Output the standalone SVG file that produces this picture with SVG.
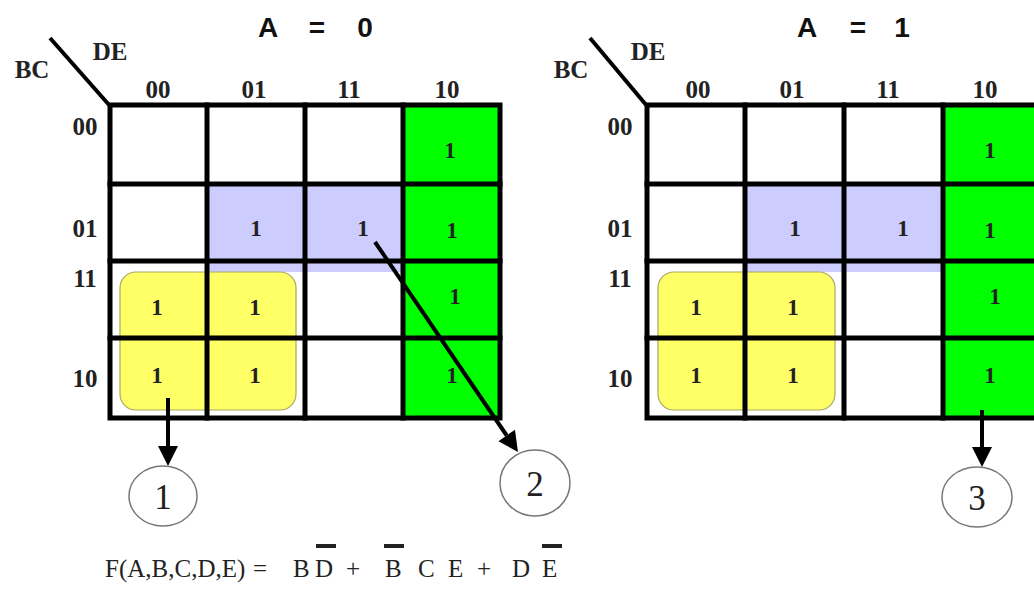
<svg xmlns="http://www.w3.org/2000/svg" width="1034" height="589" viewBox="0 0 1034 589">
<style>
.bg{fill:#ffffff}
.green{fill:#00ff00}
.lav{fill:#ccccff}
.yel{fill:#ffff66;stroke:#a8a860;stroke-width:1.2}
.grid{stroke:#000;stroke-width:5;fill:none;stroke-linecap:square}
.diag{stroke:#000;stroke-width:4}
.lbl{font-family:"Liberation Serif","Times New Roman",serif;font-weight:bold;font-size:25px;fill:#222;text-anchor:middle}
.one{font-family:"Liberation Serif","Times New Roman",serif;font-weight:bold;font-size:23px;fill:#222;text-anchor:middle}
.title{font-family:"Liberation Sans",Arial,sans-serif;font-weight:bold;font-size:28px;fill:#111;text-anchor:middle}
.circ{fill:#fff;stroke:#777;stroke-width:1.5}
.ctext{font-family:"Liberation Serif","Times New Roman",serif;font-size:35px;fill:#222;text-anchor:middle}
.arrow{stroke:#000;stroke-width:4;fill:none}
.f{font-family:"Liberation Serif","Times New Roman",serif;font-size:25px;fill:#222}
.bar{fill:#222}
</style>
<defs>
<marker id="ah" markerUnits="userSpaceOnUse" markerWidth="20" markerHeight="20" viewBox="0 0 20 20" refX="0" refY="10" orient="auto" overflow="visible">
<path d="M0,0 L20,10 L0,20 z" fill="#000"/>
</marker>
</defs>
<rect class="bg" x="0" y="0" width="1034" height="589"/>

<g id="map-a0">
<text class="title" x="268" y="37">A</text>
<text class="title" x="317" y="37">=</text>
<text class="title" x="365" y="37">0</text>
<rect class="green" x="403" y="105" width="97" height="313"/>
<rect class="lav" x="207" y="186" width="196" height="86"/>
<rect class="yel" x="120" y="272" width="176" height="138" rx="16" ry="16"/>
<line class="diag" x1="50" y1="38" x2="110" y2="106"/>
<rect class="grid" x="110" y="105" width="390" height="313"/>
<line class="grid" x1="207" y1="105" x2="207" y2="418"/>
<line class="grid" x1="305" y1="105" x2="305" y2="418"/>
<line class="grid" x1="403" y1="105" x2="403" y2="418"/>
<line class="grid" x1="110" y1="184" x2="500" y2="184"/>
<line class="grid" x1="110" y1="261" x2="500" y2="261"/>
<line class="grid" x1="110" y1="338" x2="500" y2="338"/>
<text class="lbl" x="110" y="60">DE</text>
<text class="lbl" x="32" y="78">BC</text>
<text class="lbl" x="158" y="98">00</text>
<text class="lbl" x="254" y="98">01</text>
<text class="lbl" x="349" y="98">11</text>
<text class="lbl" x="447" y="98">10</text>
<text class="lbl" x="85" y="135">00</text>
<text class="lbl" x="85" y="237">01</text>
<text class="lbl" x="85" y="287">11</text>
<text class="lbl" x="85" y="387">10</text>
<text class="one" x="450" y="158">1</text>
<text class="one" x="256" y="236">1</text>
<text class="one" x="363" y="236">1</text>
<text class="one" x="452" y="238">1</text>
<text class="one" x="157" y="315">1</text>
<text class="one" x="255" y="315">1</text>
<text class="one" x="455" y="304">1</text>
<text class="one" x="157" y="383">1</text>
<text class="one" x="255" y="383">1</text>
<text class="one" x="452" y="383">1</text>
</g>

<g id="map-a1">
<text class="title" x="807" y="37">A</text>
<text class="title" x="858" y="37">=</text>
<text class="title" x="902" y="37">1</text>
<rect class="green" x="943" y="105" width="97" height="313"/>
<rect class="lav" x="745" y="186" width="198" height="86"/>
<rect class="yel" x="658" y="272" width="177" height="138" rx="16" ry="16"/>
<line class="diag" x1="590" y1="38" x2="647" y2="106"/>
<rect class="grid" x="647" y="105" width="393" height="313"/>
<line class="grid" x1="745" y1="105" x2="745" y2="418"/>
<line class="grid" x1="844" y1="105" x2="844" y2="418"/>
<line class="grid" x1="943" y1="105" x2="943" y2="418"/>
<line class="grid" x1="647" y1="184" x2="1040" y2="184"/>
<line class="grid" x1="647" y1="261" x2="1040" y2="261"/>
<line class="grid" x1="647" y1="338" x2="1040" y2="338"/>
<text class="lbl" x="648" y="60">DE</text>
<text class="lbl" x="571" y="78">BC</text>
<text class="lbl" x="698" y="98">00</text>
<text class="lbl" x="792" y="98">01</text>
<text class="lbl" x="888" y="98">11</text>
<text class="lbl" x="985" y="98">10</text>
<text class="lbl" x="620" y="135">00</text>
<text class="lbl" x="620" y="237">01</text>
<text class="lbl" x="620" y="287">11</text>
<text class="lbl" x="620" y="387">10</text>
<text class="one" x="990" y="158">1</text>
<text class="one" x="795" y="236">1</text>
<text class="one" x="903" y="236">1</text>
<text class="one" x="990" y="238">1</text>
<text class="one" x="696" y="315">1</text>
<text class="one" x="793" y="315">1</text>
<text class="one" x="995" y="304">1</text>
<text class="one" x="696" y="383">1</text>
<text class="one" x="793" y="383">1</text>
<text class="one" x="990" y="383">1</text>
</g>

<g id="connectors">
<line class="arrow" x1="168" y1="398" x2="168" y2="446" marker-end="url(#ah)"/>
<line class="arrow" x1="375" y1="242" x2="506.7" y2="435.5" marker-end="url(#ah)"/>
<line class="arrow" x1="982" y1="410" x2="982" y2="447" marker-end="url(#ah)"/>
</g>

<g id="circle-1">
<ellipse class="circ" cx="163" cy="496" rx="34" ry="30"/>
<text class="ctext" x="163" y="509">1</text>
</g>
<g id="circle-2">
<ellipse class="circ" cx="535" cy="483" rx="35" ry="33"/>
<text class="ctext" x="535" y="496">2</text>
</g>
<g id="circle-3">
<ellipse class="circ" cx="977" cy="497" rx="35" ry="30"/>
<text class="ctext" x="977" y="510">3</text>
</g>

<g id="formula">
<text class="f" y="577"><tspan x="105">F(A,B,C,D,E)</tspan><tspan x="253">=</tspan><tspan x="293">B</tspan><tspan x="315">D</tspan><tspan x="346">+</tspan><tspan x="385">B</tspan><tspan x="418">C</tspan><tspan x="448">E</tspan><tspan x="477">+</tspan><tspan x="512">D</tspan><tspan x="542">E</tspan></text>
<rect class="bar" x="316" y="544" width="20" height="4"/>
<rect class="bar" x="384" y="544" width="20" height="4"/>
<rect class="bar" x="542" y="544" width="20" height="4"/>
</g>
</svg>
